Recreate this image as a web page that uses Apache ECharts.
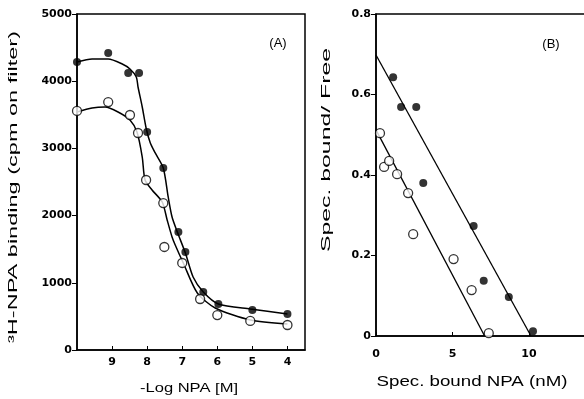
<!DOCTYPE html>
<html><head><meta charset="utf-8">
<script src="https://cdn.jsdelivr.net/npm/echarts@6/dist/echarts.min.js"></script>
<style>html,body{margin:0;padding:0;background:#fff}#c{width:584px;height:399px}</style>
</head><body><div id="c"></div>
<script>
// Panel A: -log NPA vs binding (cpm)
const aFilledX = [10, 9.11, 8.54, 8.23, 8.0, 7.54, 7.11, 6.91, 6.4, 5.97, 5.0, 4.0];
const aFilledY = [4286, 4420, 4122, 4122, 3244, 2708, 1756, 1458, 863, 684, 595, 536];
const aOpenX = [10, 9.11, 8.49, 8.26, 8.03, 7.54, 7.51, 7.0, 6.49, 6.0, 5.06, 4.0];
const aOpenY = [3557, 3690, 3497, 3229, 2530, 2187, 1533, 1295, 759, 520, 432, 372];
const aFilledCurveX = [10, 9.57, 9.11, 8.71, 8.49, 8.31, 8.26, 8.14, 8.03, 7.91, 7.77, 7.54, 7.40, 7.29, 7.14, 6.91, 6.69, 6.40, 5.97, 5.06, 4.0];
const aFilledCurveY = [4286, 4330, 4330, 4256, 4182, 4063, 3914, 3616, 3304, 3080, 2932, 2708, 2277, 1979, 1756, 1443, 1086, 863, 685, 610, 536];
const aOpenCurveX = [10, 9.57, 9.2, 8.83, 8.49, 8.29, 8.14, 8.06, 7.86, 7.57, 7.43, 7.29, 7.2, 6.97, 6.57, 6.06, 5.06, 4.0];
const aOpenCurveY = [3542, 3601, 3616, 3542, 3423, 3244, 2872, 2530, 2381, 2202, 1935, 1682, 1563, 1295, 848, 625, 446, 387];
const aXTicks = [9, 8, 7, 6, 5, 4];
// Panel B: Scatchard
const bFilledX = [1.12, 1.64, 2.63, 3.09, 6.38, 7.04, 8.68, 10.26];
const bFilledY = [0.643, 0.569, 0.569, 0.380, 0.273, 0.137, 0.097, 0.012];
const bOpenX = [0.26, 0.53, 0.86, 1.38, 2.1, 2.43, 5.07, 6.25, 7.37];
const bOpenY = [0.504, 0.42, 0.435, 0.402, 0.355, 0.253, 0.191, 0.114, 0.007];
const bFilledLineX = [0, 10.13];
const bFilledLineY = [0.698, 0];
const bOpenLineX = [0, 7.1];
const bOpenLineY = [0.512, 0];
// Titles
const titleAX = '-Log NPA [M]';
const titleAY = '\u00b3H-NPA binding (cpm on filter)';
const titleBX = 'Spec. bound NPA (nM)';
const titleBY = 'Spec. bound/ Free';

const zip = (xs, ys) => xs.map((x, i) => [x, ys[i]]);
const font = 'Liberation Sans';
const tickLbl = {color: '#000', fontFamily: 'DejaVu Sans', fontSize: 11, fontWeight: 'bold'};
const axLine = {show: true, lineStyle: {color: '#000', width: 1.5}};

const mctx = document.createElement('canvas').getContext('2d');
function stretched(text, size, cx, cy, len, vertical) {
  const f = size + 'px "' + font + '"';
  mctx.font = f;
  const w = mctx.measureText(text).width;
  return {type: 'text', x: cx, y: cy, rotation: vertical ? Math.PI / 2 : 0,
    scaleX: len / w, scaleY: 1,
    style: {text: text, font: f, fill: '#000', align: 'center', verticalAlign: 'middle'}};
}

const chart = echarts.init(document.getElementById('c'));
chart.setOption({
  animation: false,
  backgroundColor: '#fff',
  grid: [
    {left: 77, top: 14, width: 228, height: 336, show: true, borderColor: '#000', borderWidth: 1.5, outerBoundsMode: 'none', containLabel: false},
    {left: 376, top: 14, width: 229.5, height: 322, show: true, borderColor: '#000', borderWidth: 1.5, outerBoundsMode: 'none', containLabel: false}
  ],
  xAxis: [
    {type: 'value', gridIndex: 0, min: 3.5, max: 10, inverse: true,
     axisLine: axLine, splitLine: {show: false},
     axisTick: {show: true, inside: true, length: 4, customValues: aXTicks, lineStyle: {color: '#000'}},
     axisLabel: Object.assign({margin: 7, customValues: aXTicks}, tickLbl)},
    {type: 'value', gridIndex: 1, min: 0, max: 15, interval: 5,
     axisLine: axLine, splitLine: {show: false},
     axisTick: {show: true, inside: true, length: 4, lineStyle: {color: '#000'}},
     axisLabel: Object.assign({margin: 13}, tickLbl)}
  ],
  yAxis: [
    {type: 'value', gridIndex: 0, min: 0, max: 5000, interval: 1000,
     axisLine: axLine, splitLine: {show: false},
     axisTick: {show: true, length: 5, lineStyle: {color: '#000'}},
     axisLabel: Object.assign({margin: 5, formatter: v => String(v)}, tickLbl)},
    {type: 'value', gridIndex: 1, min: 0, max: 0.8, interval: 0.2,
     axisLine: axLine, splitLine: {show: false},
     axisTick: {show: true, length: 5, lineStyle: {color: '#000'}},
     axisLabel: Object.assign({margin: 5, formatter: v => v === 0 ? '0' : v.toFixed(1)}, tickLbl)}
  ],
  graphic: [
    {type: 'text', x: 278, y: 43, style: {text: '(A)', font: '13px "' + font + '"', fill: '#000', align: 'center', verticalAlign: 'middle'}},
    {type: 'text', x: 551, y: 44, style: {text: '(B)', font: '13px "' + font + '"', fill: '#000', align: 'center', verticalAlign: 'middle'}},
    stretched(titleAX, 12.5, 189, 389, 98, false),
    stretched(titleBX, 14, 472, 382, 191, false),
    stretched(titleAY, 13, 13, 187, 312, true),
    stretched(titleBY, 12.5, 327, 150, 204, true)
  ],
  series: [
    {type: 'line', xAxisIndex: 0, yAxisIndex: 0, data: zip(aFilledCurveX, aFilledCurveY), smooth: 0.25, showSymbol: false, lineStyle: {color: '#000', width: 1.5}, z: 1},
    {type: 'line', xAxisIndex: 0, yAxisIndex: 0, data: zip(aOpenCurveX, aOpenCurveY), smooth: 0.25, showSymbol: false, lineStyle: {color: '#000', width: 1.5}, z: 1},
    {type: 'scatter', xAxisIndex: 0, yAxisIndex: 0, data: zip(aFilledX, aFilledY), symbolSize: 8, itemStyle: {color: '#000'}, z: 3},
    {type: 'scatter', xAxisIndex: 0, yAxisIndex: 0, data: zip(aOpenX, aOpenY), symbolSize: 9, itemStyle: {color: '#fff', borderColor: '#000', borderWidth: 1.3}, z: 3},
    {type: 'line', xAxisIndex: 1, yAxisIndex: 1, data: zip(bFilledLineX, bFilledLineY), showSymbol: false, lineStyle: {color: '#000', width: 1.3}, z: 1},
    {type: 'line', xAxisIndex: 1, yAxisIndex: 1, data: zip(bOpenLineX, bOpenLineY), showSymbol: false, lineStyle: {color: '#000', width: 1.3}, z: 1},
    {type: 'scatter', xAxisIndex: 1, yAxisIndex: 1, data: zip(bFilledX, bFilledY), symbolSize: 8, itemStyle: {color: '#000'}, z: 3},
    {type: 'scatter', xAxisIndex: 1, yAxisIndex: 1, data: zip(bOpenX, bOpenY), symbolSize: 9, itemStyle: {color: '#fff', borderColor: '#000', borderWidth: 1.3}, z: 3}
  ]
});
</script></body></html>
